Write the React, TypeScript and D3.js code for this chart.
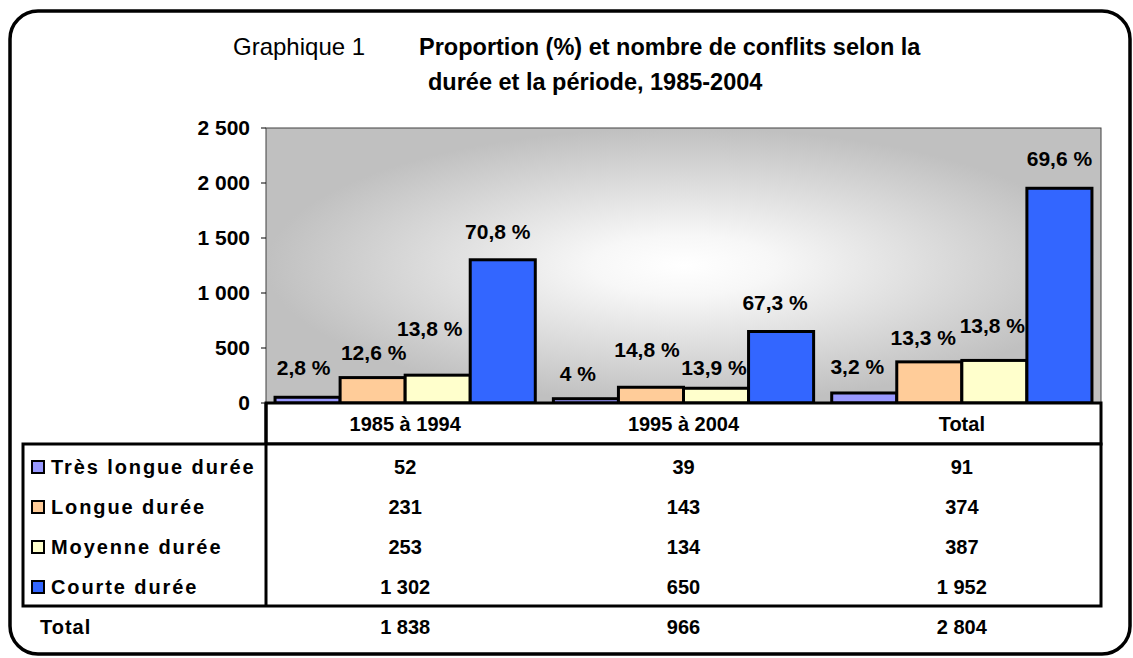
import React from "react";
import * as d3 from "d3";

const categories = ["1985 à 1994", "1995 à 2004", "Total"];
const seriesNames = ["Très longue durée", "Longue durée", "Moyenne durée", "Courte durée"];
const tresLongue = [52, 39, 91];
const longue = [231, 143, 374];
const moyenne = [253, 134, 387];
const courte = [1302, 650, 1952];
const totals = [1838, 966, 2804];
const pctTresLongue = ["2,8 %", "4 %", "3,2 %"];
const pctLongue = ["12,6 %", "14,8 %", "13,3 %"];
const pctMoyenne = ["13,8 %", "13,9 %", "13,8 %"];
const pctCourte = ["70,8 %", "67,3 %", "69,6 %"];
const yTicks = [0, 500, 1000, 1500, 2000, 2500];

const seriesValues = [tresLongue, longue, moyenne, courte];
const seriesPct = [pctTresLongue, pctLongue, pctMoyenne, pctCourte];
const seriesColors = ["#9999FF", "#FFCC99", "#FFFFCC", "#3366FF"];

// label placement tweaks (px above bar top, horizontal shift)
const labelLift = [
  [30, 25, 26],
  [25, 38, 24],
  [47, 21, 35],
  [28, 29, 30],
];
const labelShift = [
  [-4, -8, -7],
  [1, -4, -6],
  [-8, -2, -2],
  [-5, -6, 0],
];

const W = 1133;
const H = 658;
const plotLeft = 266;
const plotRight = 1101;
const plotTop = 128;
const plotBottom = 403;
const headerBottom = 444;
const bodyBottom = 606;
const legendLeft = 23;
const rowCenters = [467, 507, 547, 587];
const totalRowY = 627;

const FONT = "'Liberation Sans', Arial, Helvetica, sans-serif";

const fr = d3.formatLocale({ decimal: ",", thousands: " ", grouping: [3], currency: ["", ""] });
const fmt = fr.format(",d");

export default function App() {
  const x0 = d3
    .scaleBand<string>()
    .domain(categories)
    .range([plotLeft, plotRight])
    .paddingInner(0.065)
    .paddingOuter(0.0325);
  const x1 = d3
    .scaleBand<string>()
    .domain(seriesNames)
    .range([0, x0.bandwidth()]);
  const y = d3.scaleLinear().domain([0, 2500]).range([plotBottom, plotTop]);

  return (
    <svg
      width={W}
      height={H}
      style={{ position: "absolute", left: 0, top: 0, background: "#fff" }}
      fontFamily={FONT}
    >
      <defs>
        <radialGradient id="bg" cx="0.5" cy="0.5" r="0.5">
          <stop offset="0" stopColor="#ffffff" />
          <stop offset="0.22" stopColor="#f7f7f7" />
          <stop offset="1" stopColor="#c0c0c0" />
        </radialGradient>
      </defs>

      {/* outer frame */}
      <rect x={10} y={11} width={1120} height={643} rx={28} ry={28} fill="none" stroke="#000" strokeWidth={3.5} />

      {/* title */}
      <text x={233} y={55} fontSize={24} fill="#000">Graphique 1</text>
      <text x={419} y={55} fontSize={23.5} fontWeight="bold" fill="#000">
        Proportion (%) et nombre de conflits selon la
      </text>
      <text x={428} y={90} fontSize={23.5} fontWeight="bold" fill="#000">
        durée et la période, 1985-2004
      </text>

      {/* plot area */}
      <rect
        x={plotLeft}
        y={plotTop}
        width={plotRight - plotLeft}
        height={plotBottom - plotTop}
        fill="url(#bg)"
        stroke="#404040"
        strokeWidth={1}
      />

      {/* y axis ticks */}
      {yTicks.map((t) => (
        <g key={t}>
          <line x1={plotLeft - 5} x2={plotLeft} y1={y(t)} y2={y(t)} stroke="#000" strokeWidth={1} />
          <text
            x={250}
            y={y(t)}
            dy="0.35em"
            textAnchor="end"
            fontSize={21}
            fontWeight="bold"
            fill="#000"
          >
            {fmt(t)}
          </text>
        </g>
      ))}

      {/* bars */}
      {seriesNames.map((s, si) =>
        categories.map((c, ci) => {
          const v = seriesValues[si][ci];
          const bx = (x0(c) as number) + (x1(s) as number);
          return (
            <rect
              key={s + c}
              x={bx}
              y={y(v)}
              width={x1.bandwidth()}
              height={plotBottom - y(v)}
              fill={seriesColors[si]}
              stroke="#000"
              strokeWidth={3}
            />
          );
        })
      )}

      {/* percentage labels */}
      {seriesNames.map((s, si) =>
        categories.map((c, ci) => {
          const v = seriesValues[si][ci];
          const cx = (x0(c) as number) + (x1(s) as number) + x1.bandwidth() / 2 + labelShift[si][ci];
          return (
            <text
              key={"l" + s + c}
              x={cx}
              y={y(v) - labelLift[si][ci]}
              dy="0.35em"
              textAnchor="middle"
              fontSize={21}
              fontWeight="bold"
              fill="#000"
            >
              {seriesPct[si][ci]}
            </text>
          );
        })
      )}

      {/* data table */}
      <rect x={plotLeft} y={plotBottom} width={plotRight - plotLeft} height={headerBottom - plotBottom} fill="#fff" stroke="#000" strokeWidth={3} />
      <rect x={legendLeft} y={headerBottom} width={plotRight - legendLeft} height={bodyBottom - headerBottom} fill="#fff" stroke="#000" strokeWidth={3} />
      <line x1={plotLeft} x2={plotLeft} y1={plotBottom} y2={bodyBottom} stroke="#000" strokeWidth={3} />

      {categories.map((c) => (
        <text
          key={"h" + c}
          x={(x0(c) as number) + x0.bandwidth() / 2}
          y={(plotBottom + headerBottom) / 2}
          dy="0.35em"
          textAnchor="middle"
          fontSize={20}
          fontWeight="bold"
          fill="#000"
        >
          {c}
        </text>
      ))}

      {seriesNames.map((s, si) => (
        <g key={"row" + s}>
          <rect x={32} y={rowCenters[si] - 6} width={12} height={12} fill={seriesColors[si]} stroke="#000" strokeWidth={2} />
          <text x={51} y={rowCenters[si]} dy="0.35em" fontSize={20} fontWeight="bold" letterSpacing={1.9} fill="#000">
            {s}
          </text>
          {categories.map((c, ci) => (
            <text
              key={"v" + s + c}
              x={(x0(c) as number) + x0.bandwidth() / 2}
              y={rowCenters[si]}
              dy="0.35em"
              textAnchor="middle"
              fontSize={20}
              fontWeight="bold"
              fill="#000"
            >
              {fmt(seriesValues[si][ci])}
            </text>
          ))}
        </g>
      ))}

      <text x={40} y={totalRowY} dy="0.35em" fontSize={20} fontWeight="bold" letterSpacing={1} fill="#000">Total</text>
      {categories.map((c, ci) => (
        <text
          key={"t" + c}
          x={(x0(c) as number) + x0.bandwidth() / 2}
          y={totalRowY}
          dy="0.35em"
          textAnchor="middle"
          fontSize={20}
          fontWeight="bold"
          fill="#000"
        >
          {fmt(totals[ci])}
        </text>
      ))}
    </svg>
  );
}
